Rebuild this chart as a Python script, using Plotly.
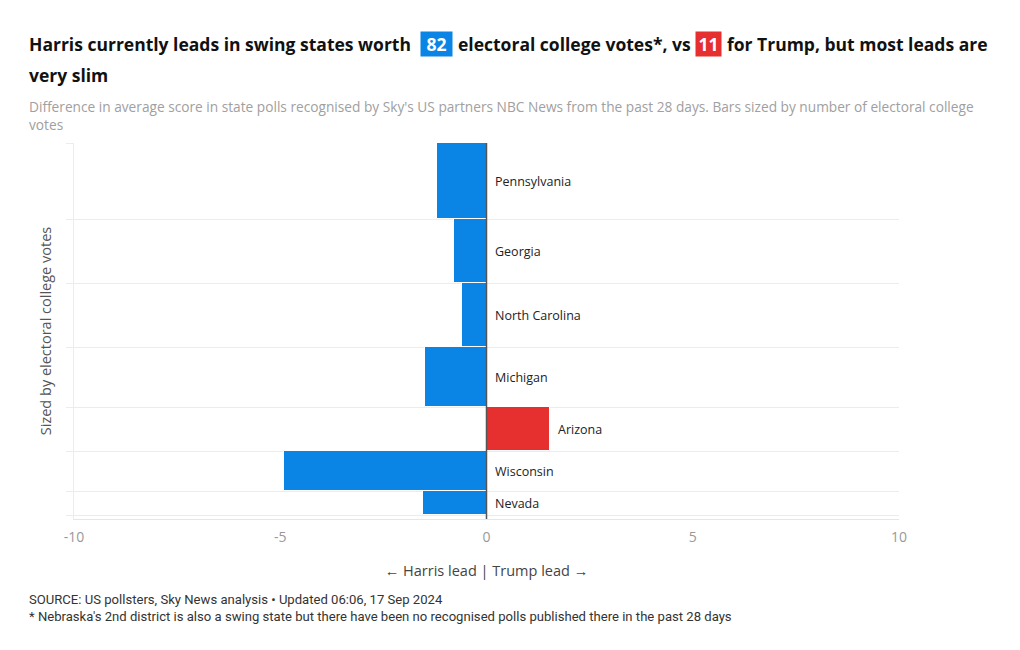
import plotly.graph_objects as go

states = ["Pennsylvania", "Georgia", "North Carolina", "Michigan", "Arizona", "Wisconsin", "Nevada"]
votes = [19, 16, 16, 15, 11, 10, 6]
lead = [-1.2, -0.8, -0.6, -1.5, 1.55, -4.9, -1.55]  # negative = Harris lead, positive = Trump lead
xticks = [-10, -5, 0, 5, 10]
xticklabels = ["-10", "-5", "0", "5", "10"]

BLUE = "#0a85e6"
RED = "#e5302f"
FONT = "Open Sans"

# cumulative positions (bottom = Nevada)
bottoms = []
acc = 0
for v in reversed(votes):
    bottoms.append(acc)
    acc += v
bottoms = list(reversed(bottoms))
centers = [b + v / 2 for b, v in zip(bottoms, votes)]
boundaries = sorted(set(bottoms + [acc]))

colors = [RED if l > 0 else BLUE for l in lead]

fig = go.Figure()
fig.add_trace(go.Bar(
    x=lead, y=centers, width=votes, orientation="h",
    marker=dict(color=colors, line=dict(color="white", width=1)),
    hoverinfo="skip", showlegend=False,
))

for s, l, c in zip(states, lead, centers):
    fig.add_annotation(x=max(l, 0), y=c, text=s, showarrow=False, xanchor="left",
                       xshift=6, font=dict(family=FONT, size=12.5, color="#222"))

# page body has an 8px margin; figure is placed at (8, 8)
OFF = 8
FW, FH = 1020 - OFF, 650 - OFF
L, R, T, B = 74, 899, 143, 519   # plot area in screen px
W, H = R - L, B - T
def px(x):
    return (x - L) / W
def py(y):
    return (B - y) / H

fig.add_shape(type="line", xref="x", yref="paper", x0=0, x1=0, y0=0, y1=1,
              line=dict(color="#555", width=1.5), layer="above")

title_font = dict(family=FONT, size=17.5, color="#111")
fig.add_annotation(xref="paper", yref="paper", x=px(27), y=py(44), xanchor="left", yanchor="middle",
                   text="<b>Harris currently leads in swing states worth</b>", showarrow=False, font=title_font)
fig.add_annotation(xref="paper", yref="paper", x=px(436.5), y=py(44), xanchor="center", yanchor="middle",
                   text="<b>82</b>", showarrow=False, bgcolor=BLUE, width=27, height=20, borderpad=2,
                   font=dict(family=FONT, size=17.5, color="white"))
fig.add_annotation(xref="paper", yref="paper", x=px(456), y=py(44), xanchor="left", yanchor="middle",
                   text="<b>electoral college votes*, vs</b>", showarrow=False, font=title_font)
fig.add_annotation(xref="paper", yref="paper", x=px(708.5), y=py(44), xanchor="center", yanchor="middle",
                   text="<b>11</b>", showarrow=False, bgcolor=RED, width=21, height=20, borderpad=2,
                   font=dict(family=FONT, size=17.5, color="white"))
fig.add_annotation(xref="paper", yref="paper", x=px(725), y=py(44), xanchor="left", yanchor="middle",
                   text="<b>for Trump, but most leads are</b>", showarrow=False, font=title_font)
fig.add_annotation(xref="paper", yref="paper", x=px(27), y=py(75), xanchor="left", yanchor="middle",
                   text="<b>very slim</b>", showarrow=False, font=title_font)
fig.add_annotation(xref="paper", yref="paper", x=px(27), y=py(95), xanchor="left", yanchor="top", align="left",
                   text="Difference in average score in state polls recognised by Sky's US partners NBC News from the past 28 days. Bars sized by number of electoral college<br>votes",
                   showarrow=False, font=dict(family=FONT, size=13.7, color="#a0a0a0"))
fig.add_annotation(xref="paper", yref="paper", x=px(27), y=py(590), xanchor="left", yanchor="top", align="left",
                   text="SOURCE: US pollsters, Sky News analysis • Updated 06:06, 17 Sep 2024<br>* Nebraska's 2nd district is also a swing state but there have been no recognised polls published there in the past 28 days",
                   showarrow=False, font=dict(family="Roboto", size=13.1, color="#333"))

fig.update_xaxes(range=[-10, 10], tickvals=xticks, ticktext=xticklabels, showgrid=False,
                 zeroline=False,
                 showline=True, linecolor="#e6e6e6", linewidth=1,
                 ticks="", ticklabelstandoff=5,
                 tickfont=dict(family=FONT, size=14, color="#999"),
                 title=dict(text="← Harris lead | Trump lead →", standoff=21,
                            font=dict(family=FONT, size=14.5, color="#444")))
fig.update_yaxes(range=[-1, acc], tickvals=boundaries, ticktext=[""] * len(boundaries),
                 showgrid=True, gridcolor="#ececec", gridwidth=1, zeroline=False,
                 showline=True, linecolor="#ececec", linewidth=1,
                 ticks="outside", ticklen=7, tickcolor="#ececec",
                 title=dict(text="Sized by electoral college votes", standoff=8,
                            font=dict(family=FONT, size=14.5, color="#555")))

fig.update_layout(
    width=FW, height=FH,
    margin=dict(l=L - OFF, r=FW - (R - OFF), t=T - OFF, b=FH - (B - OFF), autoexpand=False),
    plot_bgcolor="white", paper_bgcolor="white", bargap=0,
    font=dict(family=FONT),
)
fig.write_html("out.html")
